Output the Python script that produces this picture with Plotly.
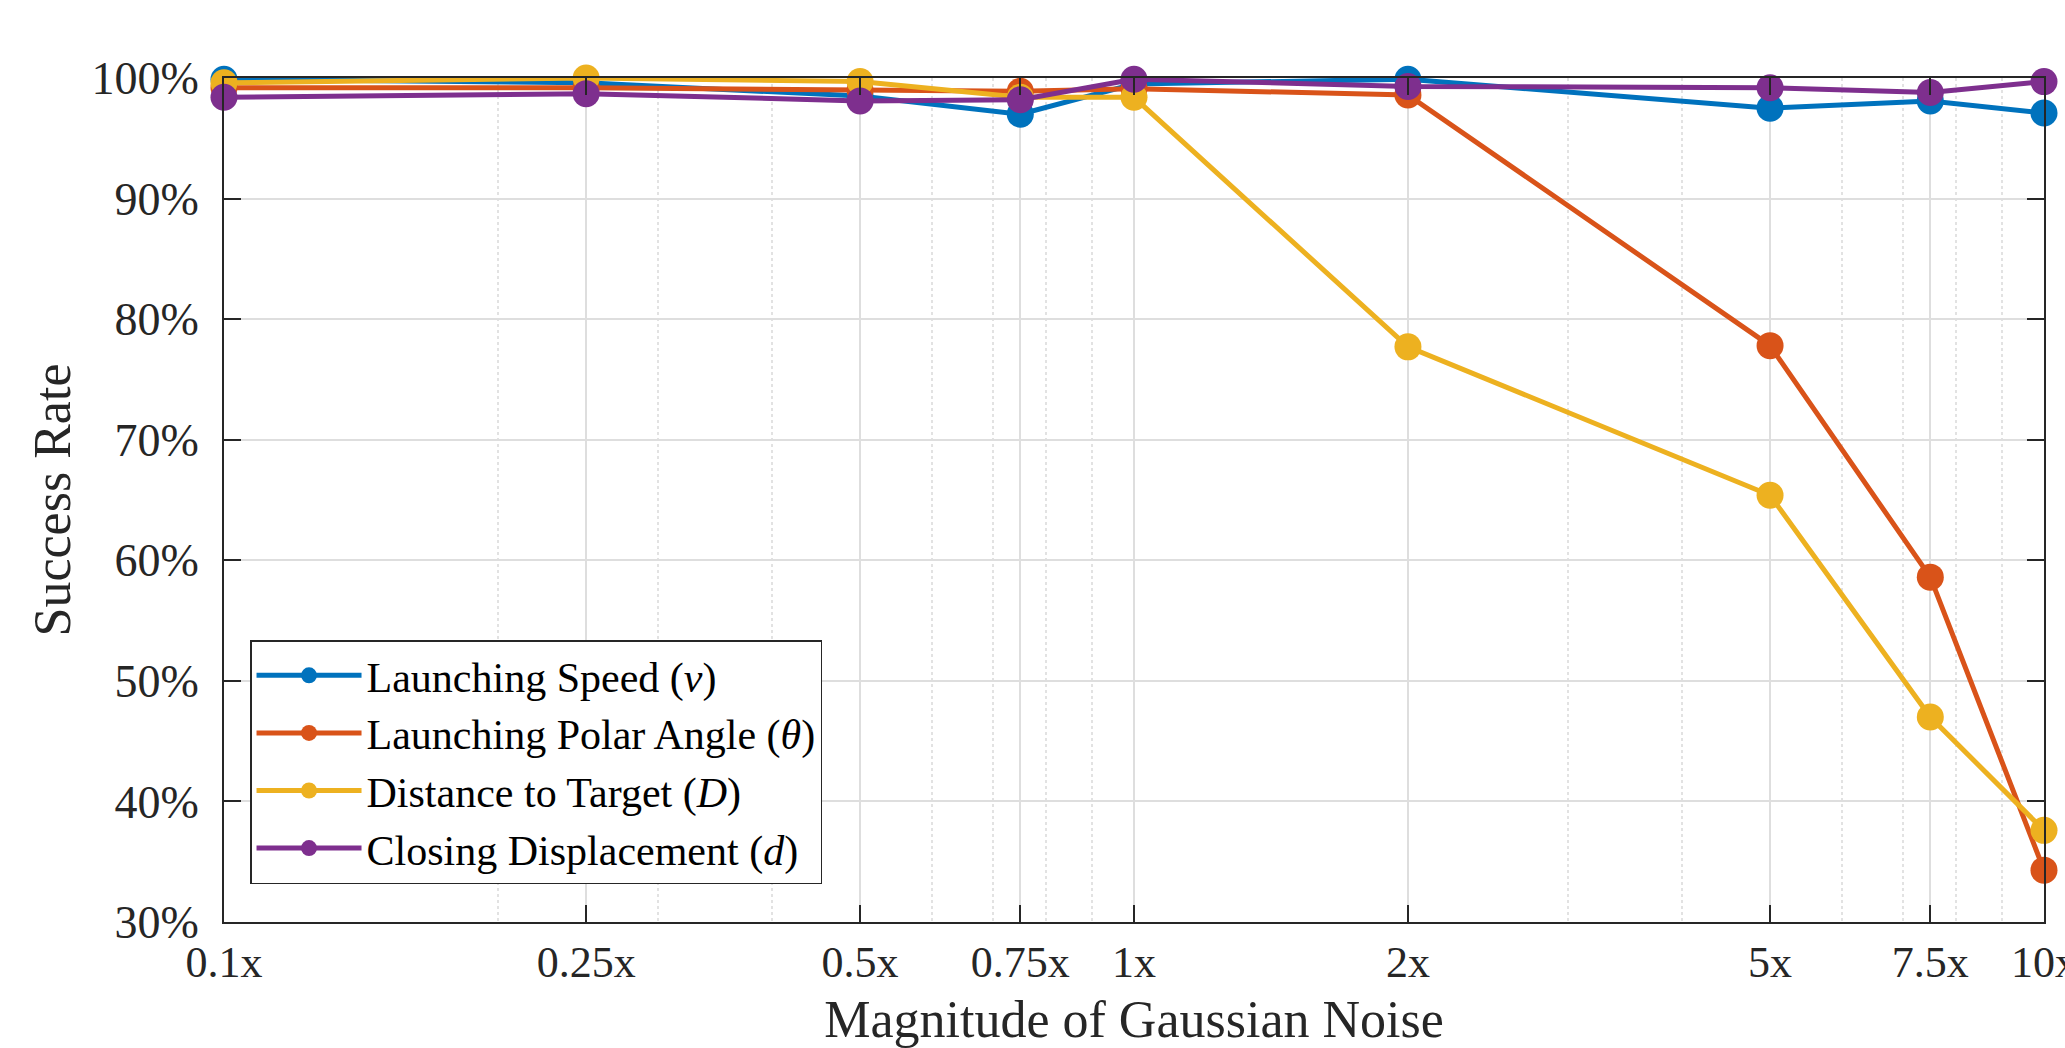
import plotly.graph_objects as go

noise = [0.1, 0.25, 0.5, 0.75, 1, 2, 5, 7.5, 10]
tick_labels = ["0.1x", "0.25x", "0.5x", "0.75x", "1x", "2x", "5x", "7.5x", "10x"]
minor_vals = [0.2, 0.3, 0.4, 0.6, 0.7, 0.8, 0.9, 3, 4, 6, 7, 8, 9]
y_ticks = [30, 40, 50, 60, 70, 80, 90, 100]
y_tick_labels = ["30%", "40%", "50%", "60%", "70%", "80%", "90%", "100%"]

speed = [99.9, 99.6, 98.5, 97.0, 99.5, 99.9, 97.5, 98.1, 97.1]
polar = [99.2, 99.2, 99.0, 98.9, 99.1, 98.6, 77.8, 58.6, 34.3]
dist = [99.6, 100.0, 99.7, 98.4, 98.4, 77.7, 65.4, 47.0, 37.6]
closing = [98.4, 98.7, 98.1, 98.2, 99.9, 99.3, 99.2, 98.8, 99.7]

names = ["Launching Speed (<i>v</i>)",
         "Launching Polar Angle (<i>θ</i>)",
         "Distance to Target (<i>D</i>)",
         "Closing Displacement (<i>d</i>)"]
colors = ["#0072BD", "#D95319", "#EDB120", "#7E2F8E"]
series = [speed, polar, dist, closing]

FONT = "Liberation Serif"
fig = go.Figure()
for name, col, vals in zip(names, colors, series):
    fig.add_trace(go.Scatter(
        x=noise, y=vals, name=name, mode="lines+markers",
        line=dict(color=col, width=5),
        marker=dict(color=col, size=27),
        cliponaxis=False,
    ))

axis_common = dict(
    showline=True, linecolor="#262626", linewidth=2, mirror="allticks",
    ticks="inside", ticklen=17, tickwidth=1.5, tickcolor="#262626",
    showgrid=True, gridcolor="#dedede", gridwidth=1.5,
    zeroline=False, automargin=False, ticklabeloverflow="allow",
)

fig.update_xaxes(
    type="log", range=[-1, 1],
    tickmode="array", tickvals=noise, ticktext=tick_labels,
    tickfont=dict(family=FONT, size=44, color="#262626"),
    minor=dict(tickmode="array", tickvals=minor_vals, showgrid=True,
               gridcolor="#e2e2e2", griddash="dot", gridwidth=1.5, ticks=""),
    title=dict(text="Magnitude of Gaussian Noise",
               font=dict(family=FONT, size=52, color="#262626"), standoff=16),
    **axis_common,
)
fig.update_yaxes(
    range=[30, 100], tickmode="array", tickvals=y_ticks, ticktext=y_tick_labels,
    tickfont=dict(family=FONT, size=46, color="#262626"),
    ticklabelstandoff=14,
    title=dict(text="Success Rate",
               font=dict(family=FONT, size=52, color="#262626"), standoff=4),
    **axis_common,
)

fig.update_layout(
    width=2065, height=1048,
    margin=dict(l=224, r=21, t=78, b=126),
    plot_bgcolor="white", paper_bgcolor="white",
    font=dict(family=FONT, color="#262626"),
    legend=dict(
        x=0.0143, y=0.045, xanchor="left", yanchor="bottom",
        bgcolor="white", bordercolor="#262626", borderwidth=1.5,
        font=dict(family=FONT, size=42, color="black"),
        itemwidth=105, tracegroupgap=0,
    ),
    showlegend=True,
)

fig.write_html(
    "out.html",
    config={"displayModeBar": False},
    post_script="document.body.style.margin='0';document.body.style.overflow='hidden';",
)
